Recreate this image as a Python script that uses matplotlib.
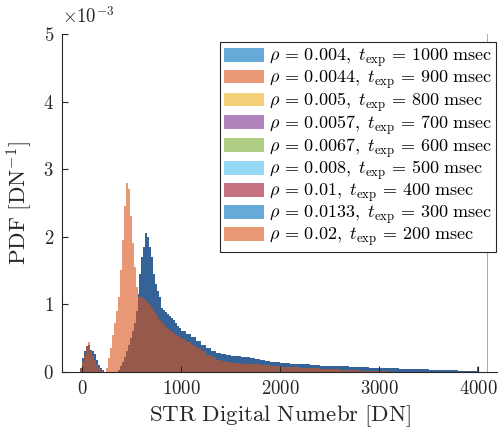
import matplotlib
matplotlib.use("Agg")
import matplotlib.pyplot as plt

plt.rcParams['mathtext.fontset'] = 'cm'
plt.rcParams['font.family'] = 'cmr10'
plt.rcParams['axes.formatter.use_mathtext'] = True

# bin edges (DN): fine near the peaks, coarser in the tail, then the saturation bin
bin_edges = (list(range(-20, 1000, 20)) + list(range(1000, 2000, 50))
             + list(range(2000, 3901, 100)) + [3990, 4000, 4088, 4102])

# PDF in units of 1e-3 DN^-1
# the eight longer exposures overlap almost perfectly at this resolution
pdf_long = [0.05, 0.20, 0.30, 0.38, 0.40, 0.32, 0.30, 0.26, 0.18, 0.10,
            0.05, 0.02, 0.00, 0.00, 0.00, 0.00, 0.00, 0.00, 0.00, 0.02,
            0.08, 0.15, 0.22, 0.30, 0.40, 0.50, 0.60, 0.72, 0.90, 1.15,
            1.45, 1.70, 1.85, 2.05, 2.00, 1.85, 1.70, 1.45, 1.30, 1.20,
            1.10, 0.95, 0.92, 0.88, 0.85, 0.82, 0.80, 0.76, 0.72, 0.68,
            0.64,
            0.60, 0.56, 0.51, 0.45, 0.40, 0.35, 0.31, 0.28, 0.26, 0.25,
            0.23, 0.23, 0.22, 0.21, 0.20, 0.19, 0.17, 0.16, 0.15, 0.14,
            0.13, 0.12, 0.11, 0.10, 0.09, 0.085, 0.08, 0.072, 0.066, 0.06,
            0.055, 0.05, 0.045, 0.04, 0.035, 0.03, 0.025, 0.02, 0.01,
            0.005, 0.07, 0.0, 0.0]

pdf_200 = [0.05, 0.15, 0.25, 0.38, 0.44, 0.30, 0.25, 0.18, 0.10, 0.05,
           0.02, 0.01, 0.00, 0.05, 0.20, 0.35, 0.55, 0.72, 0.90, 1.10,
           1.50, 1.95, 2.45, 2.80, 2.70, 2.30, 1.90, 1.55, 1.25, 1.10,
           1.10, 1.10, 1.08, 1.05, 1.02, 0.98, 0.95, 0.90, 0.85, 0.80,
           0.76, 0.72, 0.69, 0.66, 0.63, 0.61, 0.59, 0.57, 0.55, 0.53,
           0.51,
           0.48, 0.44, 0.40, 0.35, 0.30, 0.25, 0.21, 0.18, 0.16, 0.15,
           0.13, 0.13, 0.12, 0.12, 0.11, 0.11, 0.10, 0.10, 0.09, 0.085,
           0.075, 0.068, 0.055, 0.05, 0.04, 0.033, 0.027, 0.02, 0.015, 0.01,
           0.005, 0.0, 0.0, 0.0, 0.0, 0.0, 0.0, 0.0, 0.0,
           0.0, 0.0, 0.0, 9.0]

rho = ['0.004', '0.0044', '0.005', '0.0057', '0.0067', '0.008', '0.01', '0.0133', '0.02']
t_exp = [1000, 900, 800, 700, 600, 500, 400, 300, 200]

# matlab default color order
colors = ['#0072BD', '#D95319', '#EDB120', '#7E2F8E', '#77AC30',
          '#4DBEEE', '#A2142F', '#0072BD', '#D95319']

fig = plt.figure(figsize=(4.98, 4.34), dpi=100)
ax = fig.add_axes([0.125, 0.1436, 0.875, 0.778])

for i in range(len(rho)):
    vals = pdf_200 if t_exp[i] == 200 else pdf_long
    label = r'$\rho\,=\,%s,\ t_{\mathrm{exp}}\,=\,%d\ \mathrm{msec}$' % (rho[i], t_exp[i])
    ax.stairs(vals, bin_edges, fill=True, color=colors[i], alpha=0.6,
              linewidth=0, label=label)

ax.set_xlim(-200, 4200)
ax.set_ylim(0, 5)
ax.set_xticks([0, 1000, 2000, 3000, 4000])
ax.set_yticks([0, 1, 2, 3, 4, 5])
ax.spines['top'].set_visible(False)
ax.spines['right'].set_visible(False)
for s in ['left', 'bottom']:
    ax.spines[s].set_color('#262626')
    ax.spines[s].set_linewidth(0.8)
ax.tick_params(direction='in', length=4, width=0.8, colors='#262626',
               labelsize=13.5, pad=6)

ax.set_xlabel(r'$\mathrm{STR\ Digital\ Numebr\ [DN]}$', fontsize=16.5, color='#262626')
ax.set_ylabel(r'$\mathrm{PDF}\ [\mathrm{DN}^{-1}]$', fontsize=16.5, color='#262626',
              labelpad=6)
ax.text(0.0, 1.02, r'$\times 10^{-3}$', transform=ax.transAxes, fontsize=13.5,
        color='#262626', ha='left', va='bottom')

leg = ax.legend(loc='upper right', bbox_to_anchor=(0.995, 0.975), fontsize=13,
                frameon=True, fancybox=False, framealpha=1, edgecolor='#262626',
                handlelength=2.2, handleheight=0.8, labelspacing=-0.06,
                handletextpad=0.3, borderpad=0.2, borderaxespad=0)
leg.get_frame().set_linewidth(0.8)

fig.savefig('out.png', dpi=100)
